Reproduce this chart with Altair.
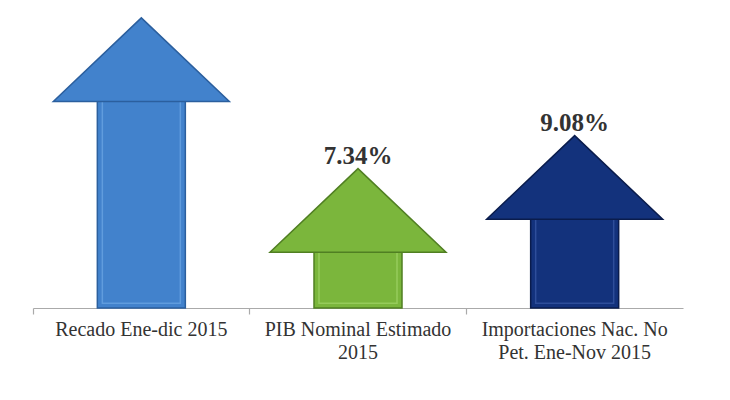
import altair as alt
import pandas as pd

categories = ["Recado Ene-dic 2015", "PIB Nominal Estimado|2015", "Importaciones Nac. No|Pet. Ene-Nov 2015"]
values = [15.28, 7.34, 9.08]
labels = ["", "7.34%", "9.08%"]
fills = ["#4282cc", "#7bb63c", "#13327c"]
strokes = ["#2b5f9e", "#507f22", "#0a1c4c"]
highlights = ["#6ea6e4", "#a2d468", "#3a5aa6"]

df = pd.DataFrame({"cat": categories, "value": values, "label": labels})

xscale = alt.Scale(domain=categories, paddingInner=0, paddingOuter=0)
yscale = alt.Scale(domain=[0, 15.8], nice=False)
cscale = alt.Scale(domain=categories, range=fills)
sscale = alt.Scale(domain=categories, range=strokes)
hscale = alt.Scale(domain=categories, range=highlights)

base = alt.Chart(df)

x_lab = alt.X("cat:N", scale=xscale, sort=categories, title=None,
              axis=alt.Axis(orient="bottom", labelAngle=0, ticks=False, domain=False,
                            labelExpr="split(datum.label, '|')",
                            labelFont="Liberation Serif", labelFontSize=20,
                            labelLimit=400, labelOverlap=False,
                            labelColor="#333333", labelPadding=11, labelLineHeight=23))
x_tick = alt.X("cat:N", scale=xscale, sort=categories, title=None,
               axis=alt.Axis(orient="bottom", labels=False, ticks=True, bandPosition=0,
                             tickSize=6, tickColor="#aaaaaa", domainColor="#aaaaaa",
                             domainWidth=1.2, tickWidth=1.2))
x_none = alt.X("cat:N", scale=xscale, sort=categories, axis=None)

shaft = base.transform_calculate(top="datum.value - 3.16").mark_bar(size=88, strokeWidth=1.5).encode(
    x=x_lab,
    y=alt.Y("top:Q", scale=yscale, axis=None),
    y2=alt.datum(0),
    color=alt.Color("cat:N", scale=cscale, legend=None),
    stroke=alt.Stroke("cat:N", scale=sscale, legend=None),
)

bevel = base.transform_calculate(top="datum.value - 3.5").mark_bar(
    size=78, strokeWidth=1.5, fillOpacity=0, strokeOpacity=0.7).encode(
    x=x_none,
    y=alt.Y("top:Q", scale=yscale, axis=None),
    y2=alt.datum(0.25),
    stroke=alt.Stroke("cat:N", scale=hscale, legend=None),
)

head = base.mark_point(shape="M0,0L1,0.95L-1,0.95Z", filled=True, size=30976,
                       opacity=1, strokeWidth=1.5).encode(
    x=x_tick,
    y=alt.Y("value:Q", scale=yscale, axis=None),
    color=alt.Color("cat:N", scale=cscale, legend=None),
    stroke=alt.Stroke("cat:N", scale=sscale, legend=None),
)

text = base.mark_text(baseline="alphabetic", dy=-5, font="Liberation Serif", fontSize=25,
                      fontWeight="bold", color="#333333").encode(
    x=x_none,
    y=alt.Y("value:Q", scale=yscale, axis=None),
    text="label:N",
)

chart = alt.layer(shaft, bevel, head, text).resolve_axis(x="independent").resolve_scale(
    stroke="independent").properties(
    width=650, height=300, background="white",
    autosize=alt.AutoSizeParams(type="none"),
    padding={"left": 25, "top": 0, "right": 39, "bottom": 76},
).configure_view(stroke=None)

chart.save("out.html", embed_options={"renderer": "svg", "actions": False})
